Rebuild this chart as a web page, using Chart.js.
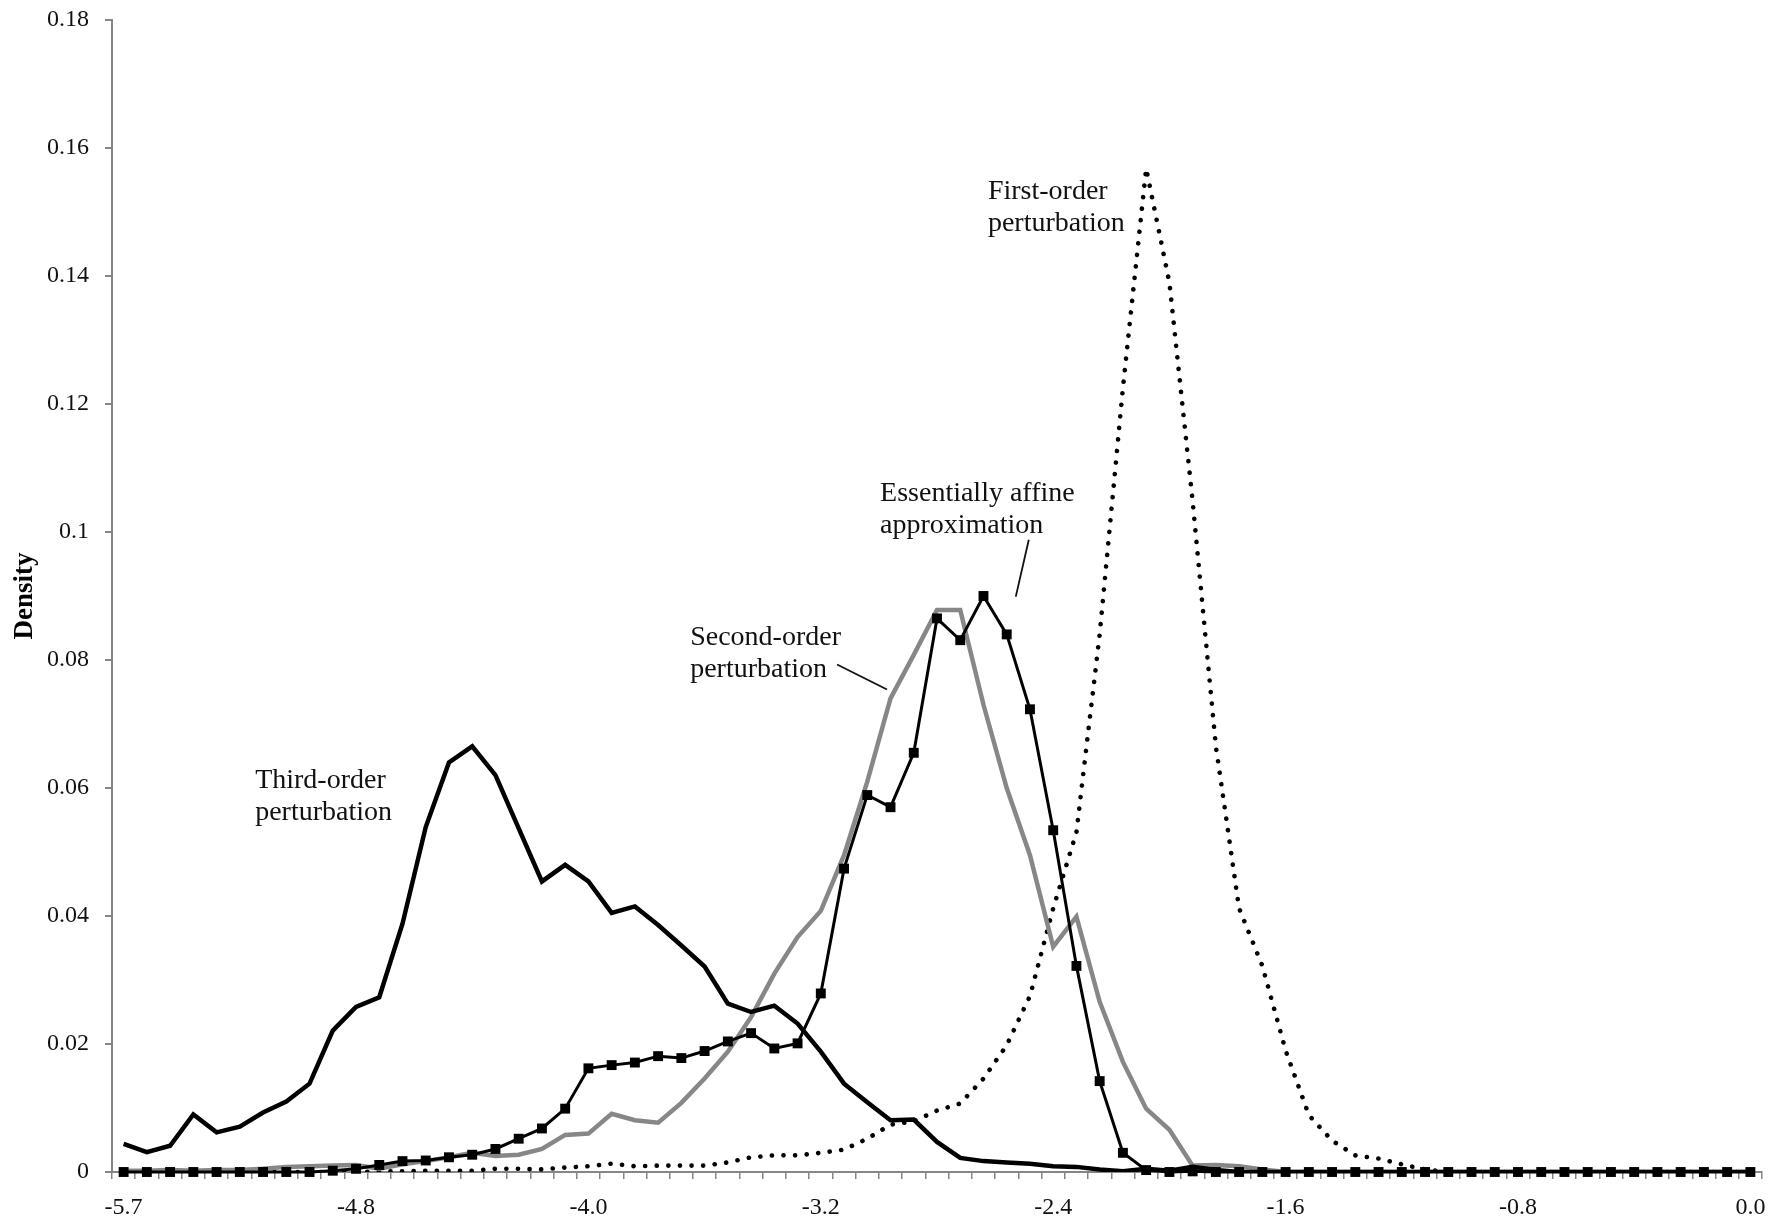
<!DOCTYPE html>
<html>
<head>
<meta charset="utf-8">
<title>Density</title>
<script src="https://cdn.jsdelivr.net/npm/chart.js@4.4.0/dist/chart.umd.min.js"></script>
<style>
  html, body { margin: 0; padding: 0; background: #fff; }
  #wrap { width: 1790px; height: 1217px; position: relative; }
</style>
</head>
<body>
<div id="wrap"><canvas id="grafico"></canvas></div>
<script>
// === Data ===
// x tick labels, one every 10 categories (71 categories in all)
var tickLabels = ['-5.7', '-4.8', '-4.0', '-3.2', '-2.4', '-1.6', '-0.8', '0.0'];
var labelEvery = 10;

var thirdOrder = [
  0.0044, 0.0031, 0.0041, 0.0090, 0.0062, 0.0071, 0.0093, 0.0110, 0.0138, 0.0221,
  0.0258, 0.0273, 0.0388, 0.0539, 0.0640, 0.0665, 0.0620, 0.0537, 0.0454, 0.0480,
  0.0454, 0.0405, 0.0415, 0.0386, 0.0354, 0.0321, 0.0263, 0.0250, 0.0260, 0.0232,
  0.0188, 0.0138, 0.0109, 0.0081, 0.0082, 0.0047, 0.0022, 0.0017, 0.0015, 0.0013,
  0.0009, 0.0008, 0.0004, 0.0001, 0.0005, 0.0002, 0.0008, 0.0003, 0, 0,
  0, 0, 0, 0, 0, 0, 0, 0, 0, 0,
  0, 0, 0, 0, 0, 0, 0, 0, 0, 0,
  0
];

var secondOrder = [
  0.0002, 0.0002, 0.0003, 0.0002, 0.0003, 0.0003, 0.0005, 0.0008, 0.0009, 0.0010,
  0.0011, 0.0005, 0.0012, 0.0017, 0.0023, 0.0030, 0.0025, 0.0027, 0.0036, 0.0058,
  0.0060, 0.0091, 0.0081, 0.0077, 0.0108, 0.0146, 0.0188, 0.0242, 0.0310, 0.0367,
  0.0408, 0.0495, 0.0610, 0.0740, 0.0808, 0.0878, 0.0878, 0.0730, 0.0600, 0.0495,
  0.0352, 0.0399, 0.0266, 0.0172, 0.0099, 0.0066, 0.0010, 0.0011, 0.0009, 0.0004,
  0, 0, 0, 0, 0, 0, 0, 0, 0, 0,
  0, 0, 0, 0, 0, 0, 0, 0, 0, 0,
  0
];

var affine = [
  0, 0, 0, 0, 0, 0, 0, 0, 0, 0.0002,
  0.0005, 0.0011, 0.0017, 0.0018, 0.0023, 0.0027, 0.0036, 0.0052, 0.0068, 0.0099,
  0.0162, 0.0167, 0.0171, 0.0181, 0.0178, 0.0189, 0.0204, 0.0217, 0.0193, 0.0201,
  0.0279, 0.0474, 0.0589, 0.0570, 0.0655, 0.0865, 0.0831, 0.0900, 0.0840, 0.0723,
  0.0534, 0.0322, 0.0142, 0.0030, 0.0003, 0, 0.0001, 0, 0, 0,
  0, 0, 0, 0, 0, 0, 0, 0, 0, 0,
  0, 0, 0, 0, 0, 0, 0, 0, 0, 0,
  0
];

var firstOrder = [
  0, 0, 0, 0, 0, 0, 0, 0, 0, 0,
  0, 0.0001, 0.0001, 0.0002, 0.0002, 0.0002, 0.0005, 0.0005, 0.0004, 0.0007,
  0.0009, 0.0013, 0.0009, 0.0010, 0.0010, 0.0010, 0.0015, 0.0023, 0.0026, 0.0026,
  0.0030, 0.0035, 0.0052, 0.0074, 0.0079, 0.0096, 0.0107, 0.0146, 0.0198, 0.0275,
  0.0412, 0.0531, 0.0840, 0.1225, 0.1568, 0.1390, 0.1048, 0.0665, 0.0412, 0.0322,
  0.0190, 0.0089, 0.0049, 0.0026, 0.0021, 0.0012, 0.0004, 0, 0, 0,
  0, 0, 0, 0, 0, 0, 0, 0, 0, 0,
  0
];

// annotations, anchored in data coordinates (category index, density)
var notas = [
  { lines: ['Third-order', 'perturbation'], at: [5.66, 0.0600] },
  { lines: ['Second-order', 'perturbation'], at: [24.38, 0.0824],
    leader: [[30.70, 0.0793], [32.85, 0.0754]] },
  { lines: ['Essentially affine', 'approximation'], at: [32.55, 0.1048],
    leader: [[38.95, 0.0988], [38.39, 0.0899]] },
  { lines: ['First-order', 'perturbation'], at: [37.19, 0.1520] }
];

// === Styles ===
var SERIF = '"Liberation Serif", "DejaVu Serif", serif';
var C_AXIS = '#868686';
var C_GRAY = '#878787';

var categorias = firstOrder.map(function (_, i) {
  return i % labelEvery === 0 ? tickLabels[i / labelEvery] : '';
});

var notasPlugin = {
  id: 'notas',
  afterDatasetsDraw: function (chart) {
    var ctx = chart.ctx;
    var x = chart.scales.x, y = chart.scales.y;
    ctx.save();
    ctx.fillStyle = '#111';
    ctx.strokeStyle = '#111';
    ctx.lineWidth = 1.8;
    ctx.font = '28px ' + SERIF;
    ctx.textAlign = 'left';
    ctx.textBaseline = 'alphabetic';
    notas.forEach(function (n) {
      var px = x.getPixelForValue(n.at[0]);
      var py = y.getPixelForValue(n.at[1]);
      n.lines.forEach(function (t, k) {
        ctx.fillText(t, px, py + k * 32);
      });
      if (n.leader) {
        ctx.beginPath();
        ctx.moveTo(x.getPixelForValue(n.leader[0][0]), y.getPixelForValue(n.leader[0][1]));
        ctx.lineTo(x.getPixelForValue(n.leader[1][0]), y.getPixelForValue(n.leader[1][1]));
        ctx.stroke();
      }
    });
    ctx.restore();
  }
};

var config = {
  type: 'line',
  data: {
    labels: categorias,
    datasets: [
      {
        label: 'Essentially affine approximation',
        data: affine,
        borderColor: '#000',
        backgroundColor: '#000',
        borderWidth: 3,
        pointStyle: 'rect',
        pointRadius: 7,
        pointBorderWidth: 0,
        tension: 0,
        clip: 10,
        order: 0
      },
      {
        label: 'Third-order perturbation',
        data: thirdOrder,
        borderColor: '#000',
        borderWidth: 4.5,
        pointRadius: 0,
        borderJoinStyle: 'miter',
        tension: 0,
        order: 1
      },
      {
        label: 'Second-order perturbation',
        data: secondOrder,
        borderColor: C_GRAY,
        borderWidth: 4.5,
        pointRadius: 0,
        borderJoinStyle: 'miter',
        tension: 0,
        order: 2
      },
      {
        label: 'First-order perturbation',
        data: firstOrder,
        borderColor: '#000',
        borderWidth: 4.6,
        borderDash: [0.1, 11.5],
        borderCapStyle: 'round',
        pointRadius: 0,
        tension: 0,
        order: 3
      }
    ]
  },
  options: {
    responsive: true,
    maintainAspectRatio: false,
    animation: false,
    layout: { padding: { top: 20, right: 28, left: 0, bottom: 0 } },
    plugins: {
      legend: { display: false },
      tooltip: { enabled: false }
    },
    scales: {
      x: {
        type: 'category',
        offset: true,
        grid: {
          offset: true,
          drawOnChartArea: false,
          drawTicks: true,
          tickLength: 7,
          color: C_AXIS,
          lineWidth: 1.5
        },
        border: { color: C_AXIS, width: 2 },
        ticks: {
          autoSkip: false,
          maxRotation: 0,
          minRotation: 0,
          padding: 14,
          color: '#111',
          font: { family: SERIF, size: 24 },
          callback: function (v, i) {
            return i % labelEvery === 0 ? tickLabels[i / labelEvery] : '';
          }
        },
        afterFit: function (s) { s.height = 45; }
      },
      y: {
        min: 0,
        max: 0.18,
        grid: {
          drawOnChartArea: false,
          drawTicks: true,
          tickLength: 7,
          color: C_AXIS,
          lineWidth: 2
        },
        border: { color: C_AXIS, width: 2 },
        ticks: {
          stepSize: 0.02,
          padding: 16,
          color: '#111',
          font: { family: SERIF, size: 24 },
          callback: function (v) { return String(Math.round(v * 100) / 100); }
        },
        title: {
          display: true,
          text: 'Density',
          color: '#000',
          padding: { top: 9, bottom: 0 },
          font: { family: SERIF, size: 27, weight: 'bold' }
        },
        afterFit: function (s) {
          s.width = 112;
          s.paddingTop = 0;
          s.paddingBottom = 0;
        }
      }
    }
  },
  plugins: [notasPlugin]
};

var canvas = document.getElementById('grafico');
if (!canvas || typeof Chart === 'undefined') {
  console.error('Canvas or Chart.js missing');
} else {
  new Chart(canvas, config);
}
</script>
</body>
</html>
